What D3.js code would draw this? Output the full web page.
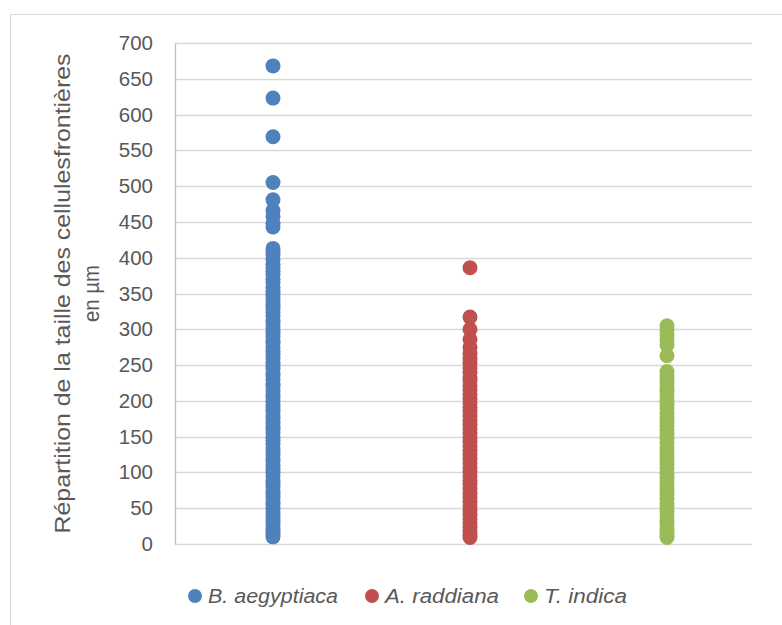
<!DOCTYPE html>
<html>
<head>
<meta charset="utf-8">
<script src="https://cdn.jsdelivr.net/npm/d3@7"></script>
<style>
  body { margin: 0; background: #fff; }
  text { font-family: "Liberation Sans", Arial, sans-serif; fill: #595959; }
</style>
</head>
<body>
<div id="chart"></div>
<script>
// Species (categories) and their measured sizes (µm)
const species = ["B. aegyptiaca", "A. raddiana", "T. indica"];
const colors = ["#4f81bd", "#c0504d", "#9bbb59"];

const aegyptiaca = [668, 623, 569, 505, 481, 466, 458, 448, 443, 413, 409, 404, 397, 391, 386, 381,
  376, 370, 365, 358, 353, 349, 343, 338, 333, 329, 324, 319, 313, 309, 304, 299, 295, 290, 284,
  280, 275, 269, 265, 260, 254, 250, 245, 239, 235, 230, 224, 220, 214, 209, 205, 199, 194, 190,
  185, 179, 175, 170, 164, 160, 155, 149, 145, 140, 134, 130, 125, 119, 115, 110, 104, 100, 95,
  89, 85, 80, 74, 70, 65, 59, 55, 50, 44, 40, 35, 30, 26, 21, 17, 13, 10];
const raddiana = [386, 317, 300, 286, 275, 266, 259, 252, 246, 240, 233, 228, 221, 215, 209, 203,
  197, 191, 185, 179, 173, 167, 161, 155, 149, 143, 137, 131, 125, 119, 113, 107, 101, 95, 89,
  83, 77, 71, 65, 59, 53, 47, 41, 35, 29, 23, 18, 13, 9];
const indica = [305, 299, 292, 284, 278, 263, 241, 236, 231, 225, 219, 213, 207, 201, 195, 189,
  183, 177, 171, 165, 159, 153, 147, 141, 135, 129, 123, 117, 111, 105, 99, 93, 87, 81, 75, 69,
  63, 57, 51, 45, 39, 33, 27, 21, 16, 12, 9];
const seriesValues = [aegyptiaca, raddiana, indica];

const yTicks = [0, 50, 100, 150, 200, 250, 300, 350, 400, 450, 500, 550, 600, 650, 700];

const width = 782, height = 625;
const plot = { left: 175, right: 752, top: 43, bottom: 544 };

const svg = d3.select("#chart").append("svg")
    .attr("width", width)
    .attr("height", height);

// outer chart frame (only left and top visible in the crop)
svg.append("path")
    .attr("d", "M10.5,625 V14.5 H782")
    .attr("fill", "none")
    .attr("stroke", "#d9d9d9")
    .attr("stroke-width", 1);

const y = d3.scaleLinear().domain([0, 700]).range([plot.bottom, plot.top]);
const x = d3.scalePoint().domain(species).range([273, 667]);

// gridlines
svg.append("g")
  .selectAll("line")
  .data(yTicks)
  .enter().append("line")
    .attr("x1", plot.left)
    .attr("x2", plot.right)
    .attr("y1", d => Math.round(y(d)) + 0.5)
    .attr("y2", d => Math.round(y(d)) + 0.5)
    .attr("stroke", "#d9d9d9")
    .attr("stroke-width", 1.3);

// y axis
const yAxis = svg.append("g")
    .attr("transform", "translate(" + plot.left + ",0)")
    .call(d3.axisLeft(y).tickValues(yTicks).tickSize(0).tickPadding(22));
yAxis.select(".domain").attr("stroke", "#bfbfbf").attr("stroke-width", 1.3);
yAxis.selectAll("text")
    .style("font-size", "20.5px")
    .style("fill", "#595959")
    .style("font-family", "'Liberation Sans', Arial, sans-serif");

// y axis title (two lines)
const title = svg.append("text")
    .attr("transform", "translate(70," + ((plot.top + plot.bottom) / 2) + ") rotate(-90)")
    .attr("text-anchor", "middle")
    .style("font-size", "22px");
title.append("tspan").attr("x", 0).attr("dy", 0)
    .attr("textLength", 480).attr("lengthAdjust", "spacingAndGlyphs")
    .text("Répartition de la taille des cellulesfrontières");
title.append("tspan").attr("x", 0).attr("dy", 29)
    .attr("textLength", 57).attr("lengthAdjust", "spacingAndGlyphs")
    .text("en µm");

// points
species.forEach(function(s, i) {
  svg.append("g")
    .selectAll("circle")
    .data(seriesValues[i])
    .enter().append("circle")
      .attr("cx", x(s))
      .attr("cy", d => y(d))
      .attr("r", 7.5)
      .attr("fill", colors[i]);
});

// legend
const legendX = [195, 372, 531];
const legendW = [130, 114, 83];
const legend = svg.append("g");
species.forEach(function(s, i) {
  const g = legend.append("g").attr("transform", "translate(" + legendX[i] + ",596)");
  g.append("circle").attr("r", 7).attr("fill", colors[i]);
  g.append("text")
    .attr("x", 13)
    .attr("dy", "0.35em")
    .attr("textLength", legendW[i])
    .attr("lengthAdjust", "spacingAndGlyphs")
    .style("font-size", "20px")
    .style("font-style", "italic")
    .text(s);
});
</script>
</body>
</html>
